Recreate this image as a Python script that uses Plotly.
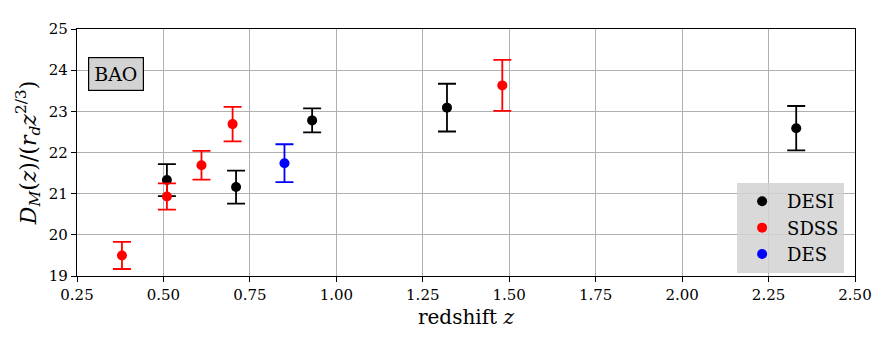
import plotly.graph_objects as go

# DESI
desi_z = [0.51, 0.71, 0.93, 1.32, 2.33]
desi_dm = [21.33, 21.16, 22.78, 23.09, 22.59]
desi_err = [0.39, 0.40, 0.29, 0.58, 0.54]

# SDSS
sdss_z = [0.38, 0.51, 0.61, 0.70, 1.48]
sdss_dm = [19.50, 20.93, 21.69, 22.69, 23.63]
sdss_err = [0.33, 0.32, 0.35, 0.42, 0.62]

# DES
des_z = [0.85]
des_dm = [21.74]
des_err = [0.46]

x_ticks = [0.25, 0.50, 0.75, 1.00, 1.25, 1.50, 1.75, 2.00, 2.25, 2.50]
y_ticks = [19, 20, 21, 22, 23, 24, 25]

SERIF = "DejaVu Serif"

fig = go.Figure()

for name, zs, vals, errs, color in [
    ("DESI", desi_z, desi_dm, desi_err, "black"),
    ("SDSS", sdss_z, sdss_dm, sdss_err, "red"),
    ("DES", des_z, des_dm, des_err, "blue"),
]:
    fig.add_trace(go.Scatter(
        x=zs, y=vals, mode="markers", name=name,
        marker=dict(color=color, size=10),
        error_y=dict(type="data", array=errs, color=color, thickness=1.8, width=9),
    ))

# BAO ラベル
fig.add_annotation(
    x=0.014, y=0.885, xref="paper", yref="paper",
    xanchor="left", yanchor="top",
    text="BAO", showarrow=False,
    font=dict(family=SERIF, size=19, color="black"),
    bgcolor="#d3d3d3", bordercolor="black", borderwidth=1.2, borderpad=5,
)

axis_common = dict(
    showline=True, linecolor="black", linewidth=1.3, mirror=True,
    ticks="outside", ticklen=5, tickcolor="black", tickwidth=1.2,
    showgrid=True, gridcolor="#b0b0b0", gridwidth=1,
    zeroline=False,
    tickfont=dict(family=SERIF, size=15, color="black"),
)

fig.update_xaxes(
    range=[0.25, 2.5], tickvals=x_ticks,
    ticktext=[f"{t:.2f}" for t in x_ticks],
    title=dict(text="redshift <i>z</i>", font=dict(family=SERIF, size=20, color="black"), standoff=6),
    **axis_common,
)
fig.update_yaxes(
    range=[19, 25], tickvals=y_ticks,
    title=dict(
        text="<i>D</i><sub><i>M</i></sub>(<i>z</i>)/(<i>r</i><sub><i>d</i></sub><i>z</i><sup>2/3</sup>)",
        font=dict(family=SERIF, size=22, color="black"), standoff=6,
    ),
    **axis_common,
)

# ページ本体の既定マージン(8px)を見込んでサイズを調整
fig.update_layout(
    width=880, height=337,
    margin=dict(l=69, r=33, t=13, b=69),
    paper_bgcolor="white", plot_bgcolor="white",
    font=dict(family=SERIF, color="black"),
    showlegend=True,
    legend=dict(
        x=0.986, y=0.012, xanchor="right", yanchor="bottom",
        bgcolor="rgba(210,210,210,0.85)", borderwidth=0,
        font=dict(family=SERIF, size=18, color="black"),
        itemwidth=40, tracegroupgap=0,
    ),
)

fig.write_html("out.html")
